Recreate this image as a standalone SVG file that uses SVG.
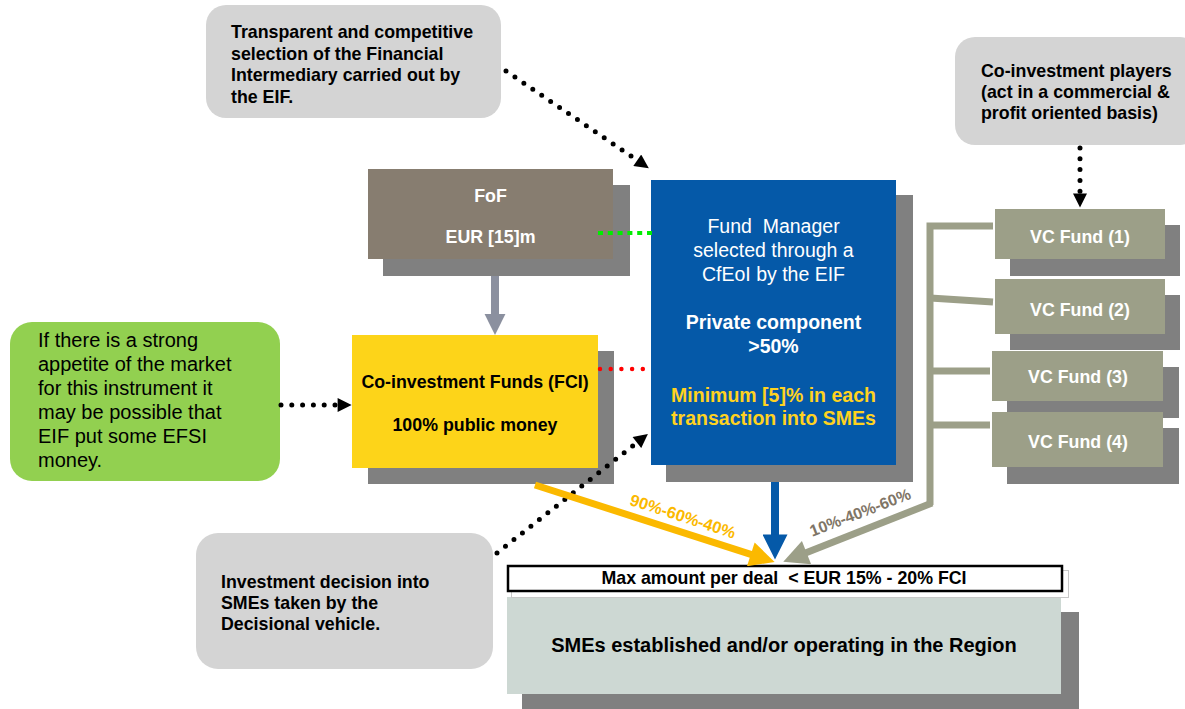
<svg xmlns="http://www.w3.org/2000/svg" width="1185" height="709" viewBox="0 0 1185 709">
<defs>
<style>
text{font-family:"Liberation Sans",Arial,sans-serif;}
.b{font-weight:bold;font-size:17.8px;}
.w{fill:#ffffff;}
.k{fill:#000000;}
.note{fill:#d4d4d4;}
.shadow{fill:#808080;}
.dot{fill:none;stroke:#000;stroke-width:5;stroke-linecap:round;stroke-dasharray:0 10.8;}
.pre{white-space:pre;}
</style>
<marker id="ahK" viewBox="0 0 10 10" refX="1" refY="5" markerUnits="userSpaceOnUse" markerWidth="15" markerHeight="14" orient="auto"><path d="M0,0 L10,5 L0,10 z" fill="#000"/></marker>
<marker id="ahG" viewBox="0 0 10 10" refX="1" refY="5" markerUnits="userSpaceOnUse" markerWidth="21" markerHeight="22" orient="auto"><path d="M0,0 L10,5 L0,10 z" fill="#8b909f"/></marker>
<marker id="ahB" viewBox="0 0 10 10" refX="1" refY="5" markerUnits="userSpaceOnUse" markerWidth="27" markerHeight="25" orient="auto"><path d="M0,0 L10,5 L0,10 z" fill="#0559a8"/></marker>
<marker id="ahY" viewBox="0 0 10 10" refX="1" refY="5" markerUnits="userSpaceOnUse" markerWidth="27" markerHeight="25" orient="auto"><path d="M0,0 L10,5 L0,10 z" fill="#fbb900"/></marker>
<marker id="ahO" viewBox="0 0 10 10" refX="1" refY="5" markerUnits="userSpaceOnUse" markerWidth="27" markerHeight="25" orient="auto"><path d="M0,0 L10,5 L0,10 z" fill="#9c9f88"/></marker>
</defs>
<rect width="1185" height="709" fill="#ffffff"/>

<g id="note-selection">
<rect x="206" y="5" width="295" height="113" rx="20" class="note"/>
<text class="b k" x="231" y="38">Transparent and competitive</text>
<text class="b k" x="231" y="60">selection of the Financial</text>
<text class="b k" x="231" y="81">Intermediary carried out by</text>
<text class="b k" x="231" y="103">the EIF.</text>
</g>

<g id="note-coinvest">
<rect x="955" y="37" width="245" height="108" rx="20" class="note"/>
<text class="b k" x="981" y="77">Co-investment players</text>
<text class="b k" x="981" y="98">(act in a commercial &amp;</text>
<text class="b k" x="981" y="119">profit oriented basis)</text>
</g>

<g id="fof">
<rect x="383" y="185" width="247" height="91" class="shadow"/>
<rect x="368" y="169" width="245" height="90" fill="#877d70"/>
<text class="b w" x="490.5" y="202" text-anchor="middle">FoF</text>
<text class="b w" x="490.5" y="243" text-anchor="middle">EUR [15]m</text>
</g>

<g id="fund-manager">
<rect x="666" y="195" width="247" height="287" class="shadow"/>
<rect x="651" y="180" width="245" height="285" fill="#0559a8"/>
<g font-size="19.5" text-anchor="middle" fill="#ffffff">
<text x="773.5" y="233" class="pre">Fund  Manager</text>
<text x="773.5" y="257">selected through a</text>
<text x="773.5" y="281">CfEoI by the EIF</text>
</g>
<g font-size="19.5" font-weight="bold" text-anchor="middle">
<text x="773.5" y="329" fill="#ffffff">Private component</text>
<text x="773.5" y="353" fill="#ffffff">&gt;50%</text>
<text x="773.5" y="402" fill="#ffd21f">Minimum [5]% in each</text>
<text x="773.5" y="425" fill="#ffd21f">transaction into SMEs</text>
</g>
</g>

<g id="fci">
<rect x="368" y="351" width="246" height="133" class="shadow"/>
<rect x="352" y="335" width="246" height="133" fill="#fdd419"/>
<text class="b k" x="475" y="388" text-anchor="middle">Co-investment Funds (FCI)</text>
<text class="b k" x="475" y="431" text-anchor="middle">100% public money</text>
</g>

<g id="note-efsi">
<rect x="10" y="322" width="270" height="159" rx="22" fill="#92d050"/>
<g font-size="20" fill="#000">
<text x="38" y="347">If there is a strong</text>
<text x="38" y="371">appetite of the market</text>
<text x="38" y="395">for this instrument it</text>
<text x="38" y="419">may be possible that</text>
<text x="38" y="443">EIF put some EFSI</text>
<text x="38" y="467">money.</text>
</g>
</g>

<g id="note-decision">
<rect x="196" y="533" width="297" height="136" rx="22" class="note"/>
<text class="b k" x="221" y="588">Investment decision into</text>
<text class="b k" x="221" y="609">SMEs taken by the</text>
<text class="b k" x="221" y="630">Decisional vehicle.</text>
</g>

<g id="vc1">
<rect x="1010" y="225" width="170" height="51" class="shadow"/>
<rect x="995" y="209" width="170" height="50" fill="#9c9f88"/>
<text class="b w" x="1080" y="243" text-anchor="middle">VC Fund (1)</text>
</g>
<g id="vc2">
<rect x="1010" y="295" width="170" height="55" class="shadow"/>
<rect x="995" y="279" width="170" height="55" fill="#9c9f88"/>
<text class="b w" x="1080" y="316" text-anchor="middle">VC Fund (2)</text>
</g>
<g id="vc3">
<rect x="1007" y="367" width="172" height="51" class="shadow"/>
<rect x="992" y="351" width="171" height="50" fill="#9c9f88"/>
<text class="b w" x="1078" y="383" text-anchor="middle">VC Fund (3)</text>
</g>
<g id="vc4">
<rect x="1007" y="428" width="172" height="56" class="shadow"/>
<rect x="992" y="412" width="171" height="55" fill="#9c9f88"/>
<text class="b w" x="1078" y="448" text-anchor="middle">VC Fund (4)</text>
</g>

<g id="smes">
<rect x="522" y="612" width="557" height="97" class="shadow"/>
<rect x="507" y="597" width="554" height="97" fill="#cdd8d3"/>
<text x="784" y="652" text-anchor="middle" font-weight="bold" font-size="20" fill="#000">SMEs established and/or operating in the Region</text>
</g>

<g id="max-amount">
<rect x="511.5" y="570.5" width="557" height="27" fill="none" stroke="#c8c8c8" stroke-width="1"/>
<rect x="508" y="566" width="554" height="25" fill="#ffffff" stroke="#000" stroke-width="2.5"/>
<text class="b k pre" x="784" y="584" text-anchor="middle">Max amount per deal  &lt; EUR 15% - 20% FCI</text>
</g>

<g id="connectors">
<line x1="598" y1="233" x2="656" y2="233" stroke="#00ee00" stroke-width="4" stroke-dasharray="5 4.8"/>
<line x1="600" y1="369" x2="651" y2="369" stroke="#ff0000" stroke-width="4.5" stroke-linecap="round" stroke-dasharray="0 10.7"/>
<line x1="506" y1="71" x2="638.4" y2="161.1" class="dot" marker-end="url(#ahK)"/>
<line x1="281" y1="405" x2="339" y2="405" class="dot" marker-end="url(#ahK)"/>
<line x1="497" y1="553" x2="638" y2="441.7" class="dot" marker-end="url(#ahK)"/>
<line x1="1080" y1="148" x2="1080" y2="195" class="dot" marker-end="url(#ahK)"/>
<line x1="495" y1="276" x2="495" y2="316" stroke="#8b909f" stroke-width="8" marker-end="url(#ahG)"/>
<line x1="775" y1="482" x2="775" y2="537" stroke="#0559a8" stroke-width="8" marker-end="url(#ahB)"/>
<line x1="535" y1="485" x2="753.2" y2="555.1" stroke="#fbb900" stroke-width="7" marker-end="url(#ahY)"/>
<g fill="none" stroke="#9c9f88" stroke-width="7">
<path d="M993,226 H930 V505"/>
<line x1="930" y1="298" x2="993" y2="302"/>
<line x1="930" y1="371" x2="990" y2="371"/>
<line x1="930" y1="425" x2="990" y2="425"/>
</g>
<line x1="932" y1="503" x2="804.2" y2="553.5" stroke="#9c9f88" stroke-width="7" marker-end="url(#ahO)"/>
<text x="683" y="522" text-anchor="middle" font-weight="bold" font-size="16.5" fill="#fbb900" transform="rotate(18 683 516)">90%-60%-40%</text>
<text x="860" y="518" text-anchor="middle" font-weight="bold" font-size="16" fill="#7f7566" transform="rotate(-21 860 512)">10%-40%-60%</text>
</g>
</svg>
